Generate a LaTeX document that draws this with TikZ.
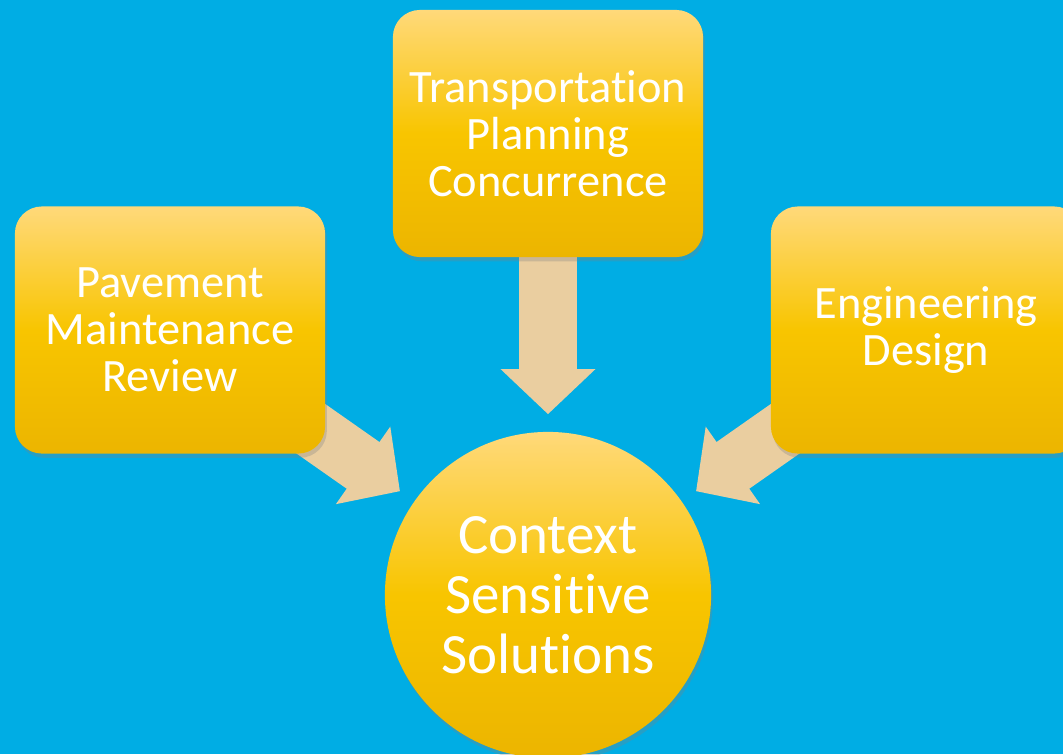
\documentclass[tikz,border=0pt]{standalone}
\usepackage{fontspec}
\setmainfont{Carlito}[Ligatures=NoCommon]
\usetikzlibrary{arrows.meta}
\usetikzlibrary{shadows}
\definecolor{skyblue}{RGB}{0,173,228}
\definecolor{goldtop}{RGB}{255,217,122}
\definecolor{goldmid}{RGB}{248,197,0}
\definecolor{goldbot}{RGB}{236,181,0}
\definecolor{sandarrow}{RGB}{234,206,160}
\pgfdeclarelayer{backdrop}
\pgfdeclarelayer{links}
\pgfsetlayers{backdrop,links,main}
\tikzset{
  goldfill/.style={top color=goldtop, bottom color=goldbot, middle color=goldmid,
    drop shadow={opacity=0.3, shadow xshift=0.5pt, shadow yshift=-1.2pt},
    text=white, align=center, inner sep=0pt},
  topicbox/.style={goldfill, rectangle, rounded corners=0.27cm,
    minimum width=3.10cm, minimum height=2.47cm, font=\fontsize{13.2}{13.4}\selectfont},
  hubcircle/.style={goldfill, circle, minimum size=3.26cm, font=\fontsize{16.2}{17.1}\selectfont},
  fatarrow/.style={draw=sandarrow, line width=0.57cm,
    -{Triangle[length=0.45cm, width=0.92cm]}, shorten >=0.17cm}
}

\begin{document}
\begin{tikzpicture}[x=0.01cm, y=-0.01cm]
  \useasboundingbox (0,0) rectangle (1063,754);
  \begin{pgfonlayer}{backdrop}
    \fill[skyblue] (0,0) rectangle (1063,754);
  \end{pgfonlayer}

  \node[topicbox] (plan) at (548,133.5) {Transportation\\Planning\\Concurrence};
  \node[topicbox] (pave) at (170,330) {Pavement\\Maintenance\\Review};
  \node[topicbox] (eng) at (926,330) {Engineering\\Design};
  \node[hubcircle] (hub) at (548,595) {Context\\Sensitive\\Solutions};

  % arrows sit behind the boxes
  \begin{pgfonlayer}{links}
    \draw[fatarrow] (plan.center) -- (hub);
    \draw[fatarrow] (pave.center) -- (hub);
    \draw[fatarrow] (eng.center) -- (hub);
  \end{pgfonlayer}
\end{tikzpicture}
\end{document}
